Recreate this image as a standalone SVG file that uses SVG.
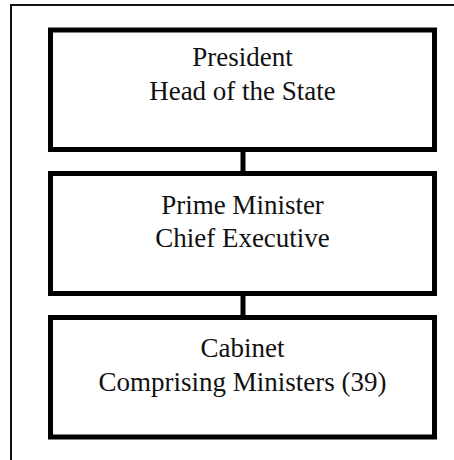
<svg xmlns="http://www.w3.org/2000/svg" width="454" height="460" viewBox="0 0 454 460">
<style>
.box{fill:#fff;stroke:#000;stroke-width:5}
.lbl{font-family:"Liberation Serif","Times New Roman",serif;font-size:27px;fill:#111;text-anchor:middle}
.conn{stroke:#000;stroke-width:5;fill:none}
.frame{stroke:#111;stroke-width:2;fill:none}
</style>
<rect width="454" height="460" fill="#fff"/>
<path class="frame" d="M11,460 V5 H454"/>
<g id="connectors">
<line class="conn" x1="243" y1="150" x2="243" y2="173"/>
<line class="conn" x1="243" y1="294" x2="243" y2="317"/>
</g>
<g id="president">
<rect class="box" x="50.5" y="30" width="384" height="119.5"/>
<text class="lbl" x="242.5" y="66">President</text>
<text class="lbl" x="242.5" y="100">Head of the State</text>
</g>
<g id="prime-minister">
<rect class="box" x="50.5" y="173.5" width="384" height="120"/>
<text class="lbl" x="242.5" y="214">Prime Minister</text>
<text class="lbl" x="242.5" y="247">Chief Executive</text>
</g>
<g id="cabinet">
<rect class="box" x="50.5" y="317.5" width="384" height="119.5"/>
<text class="lbl" x="242.5" y="357">Cabinet</text>
<text class="lbl" x="242.5" y="391">Comprising Ministers (39)</text>
</g>
</svg>
